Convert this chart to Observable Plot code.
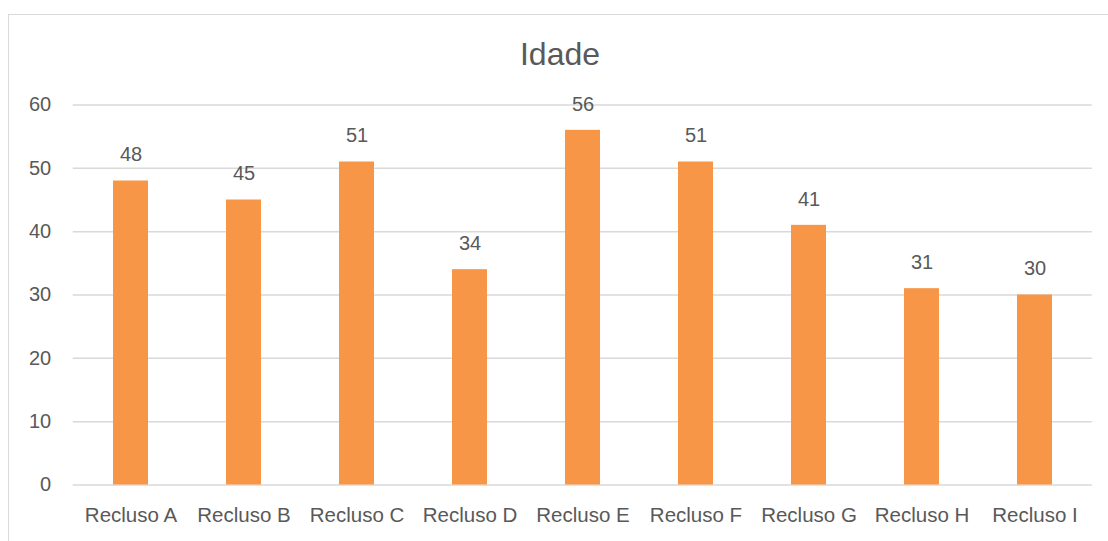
<!DOCTYPE html>
<html><head><meta charset="utf-8">
<script src="https://cdn.jsdelivr.net/npm/d3@7"></script>
<script src="https://cdn.jsdelivr.net/npm/@observablehq/plot@0.6"></script>
<style>
body{margin:0;background:#fff;width:1108px;height:541px;overflow:hidden;position:relative;font-family:"Liberation Sans",Arial,sans-serif;}
#frame{position:absolute;left:8px;top:14px;width:1200px;height:600px;border-left:1.5px solid #D9D9D9;border-top:1.5px solid #D9D9D9;}
#title{position:absolute;left:8px;width:1104px;top:35px;text-align:center;font-size:32px;color:#595959;line-height:38px;}
#chart{position:absolute;left:0;top:0;}
</style></head>
<body>
<div id="frame"></div>
<div id="title">Idade</div>
<div id="chart"></div>
<script>
const categories = ["Recluso A","Recluso B","Recluso C","Recluso D","Recluso E","Recluso F","Recluso G","Recluso H","Recluso I"];
const values = [48,45,51,34,56,51,41,31,30];
const yTicks = [0,10,20,30,40,50,60];
const data = categories.map((c,i)=>({cat:c, v:values[i]}));
const chart = Plot.plot({
  width:1108, height:541,
  marginLeft:72.7, marginRight:16.2, marginTop:104.5, marginBottom:56.5,
  style:{fontFamily:"Liberation Sans, Arial, sans-serif", fontSize:"20px", color:"#595959", background:"transparent"},
  x:{domain:categories, paddingInner:0.686, paddingOuter:0.343, label:null},
  y:{domain:[0,60], label:null},
  marks:[
    Plot.ruleY(yTicks, {stroke:"#D9D9D9", strokeWidth:1.5}),
    Plot.barY(data, {x:"cat", y:"v", fill:"#F79646"}),
    Plot.text(data, {x:"cat", y:"v", text:d=>String(d.v), dy:-26, fill:"#595959", fontSize:20}),
    Plot.axisY({ticks:yTicks, tickSize:0, tickPadding:22, fill:"#595959", fontSize:20}),
    Plot.axisX({tickSize:0, tickPadding:22, fill:"#595959", fontSize:20.5})
  ]
});
document.getElementById("chart").appendChild(chart);
</script>
</body></html>
